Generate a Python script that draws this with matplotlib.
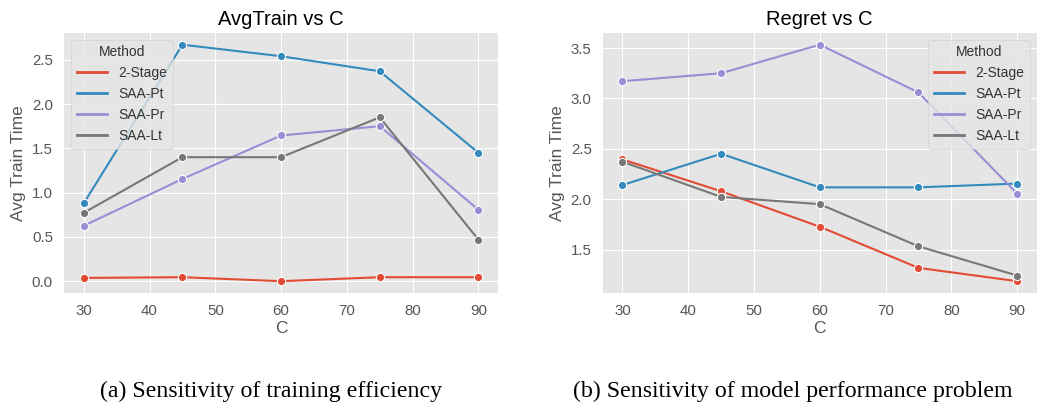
import matplotlib.pyplot as plt
from matplotlib.lines import Line2D

C = [30, 45, 60, 75, 90]
methods = ["2-Stage", "SAA-Pt", "SAA-Pr", "SAA-Lt"]
colors = ["#E24A33", "#348ABD", "#988ED5", "#777777"]

# avg train time per method
train_2stage = [0.037, 0.045, 0.0, 0.045, 0.045]
train_pt = [0.88, 2.67, 2.54, 2.37, 1.45]
train_pr = [0.626, 1.154, 1.645, 1.75, 0.806]
train_lt = [0.772, 1.40, 1.40, 1.85, 0.469]

# regret per method
regret_2stage = [2.395, 2.079, 1.727, 1.319, 1.187]
regret_pt = [2.141, 2.451, 2.118, 2.118, 2.155]
regret_pr = [3.171, 3.25, 3.533, 3.059, 2.056]
regret_lt = [2.372, 2.023, 1.951, 1.533, 1.243]

titles = ["AvgTrain vs C", "Regret vs C"]
captions = ["(a) Sensitivity of training efficiency",
            "(b) Sensitivity of model performance problem"]

plt.style.use("ggplot")
plt.rcParams["font.family"] = ["Liberation Sans", "DejaVu Sans"]

fig = plt.figure(figsize=(10.41, 4.09), dpi=100)
ax1 = fig.add_axes([0.0615, 0.2836, 0.417, 0.636])
ax2 = fig.add_axes([0.579, 0.2836, 0.417, 0.636])

panels = [
    (ax1, [train_2stage, train_pt, train_pr, train_lt], "upper left"),
    (ax2, [regret_2stage, regret_pt, regret_pr, regret_lt], "upper right"),
]

for i, (ax, series, loc) in enumerate(panels):
    for vals, col in zip(series, colors):
        ax.plot(C, vals, color=col, lw=1.5, marker="o", markersize=6,
                markeredgecolor="white", markeredgewidth=0.8)
    ax.set_title(titles[i], fontsize=14.5, color="black", pad=6)
    ax.set_xlabel("C", fontsize=12.5, color="#555555", labelpad=2)
    ax.set_ylabel("Avg Train Time", fontsize=12.5, color="#555555", labelpad=4)
    ax.set_xticks([30, 40, 50, 60, 70, 80, 90])
    ax.tick_params(length=0, labelsize=10.8, colors="#555555", pad=8)
    for s in ax.spines.values():
        s.set_visible(False)
    handles = [Line2D([], [], color=c, lw=2) for c in colors]
    leg = ax.legend(handles, methods, title="Method", loc=loc, fontsize=10,
                    title_fontsize=10, frameon=True, facecolor="#E5E5E5",
                    edgecolor="#CCCCCC", framealpha=0.8, handlelength=2.2)
    leg.get_title().set_color("#333333")
    for t in leg.get_texts():
        t.set_color("#333333")

ax1.set_yticks([0.0, 0.5, 1.0, 1.5, 2.0, 2.5])
ax2.set_yticks([1.5, 2.0, 2.5, 3.0, 3.5])

fig.text(0.260, 0.029, captions[0], ha="center", va="baseline",
         fontsize=17.2, family="Liberation Serif")
fig.text(0.762, 0.029, captions[1], ha="center", va="baseline",
         fontsize=17.2, family="Liberation Serif")

fig.savefig("out.png", dpi=100)
